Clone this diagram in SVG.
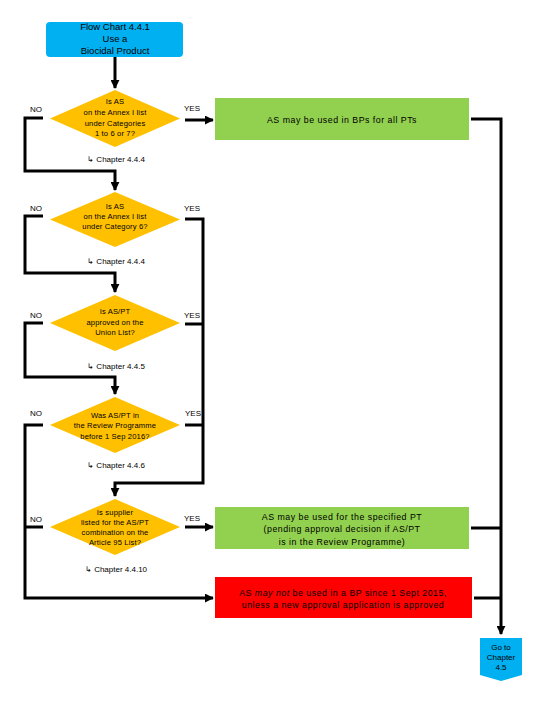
<svg xmlns="http://www.w3.org/2000/svg" width="540" height="720" viewBox="0 0 540 720">
<style>
text{font-family:"Liberation Sans",Arial,sans-serif;fill:#000;text-anchor:middle}
.t{font-size:9.5px}
.d{font-size:7.6px;letter-spacing:0.15px}
.b{font-size:8.8px;letter-spacing:0.5px}
.l{font-size:8px}
.c{font-size:8px}
.dia{fill:#FFC000}
.grn{fill:#92D050}
.red{fill:#FF0000}
.blu{fill:#00B0F0}
.con{fill:none;stroke:#000;stroke-width:3}
</style>
<defs>
<marker id="ah" viewBox="0 0 10 10" refX="9" refY="5" markerWidth="3" markerHeight="3" orient="auto" markerUnits="strokeWidth">
<path d="M0,0 L10,5 L0,10 z" fill="#000"/>
</marker>
</defs>
<rect width="540" height="720" fill="#fff"/>
<g id="connectors">
<path class="con" d="M115,57 V88" marker-end="url(#ah)"/>
<path class="con" d="M185,120 H213" marker-end="url(#ah)"/>
<path class="con" d="M471,119 H501 V634" marker-end="url(#ah)"/>
<path class="con" d="M43,118 H25 V171 H115 V190" marker-end="url(#ah)"/>
<path class="con" d="M43,216 H25 V273 H115 V292" marker-end="url(#ah)"/>
<path class="con" d="M185,219 H203 V483 H115 V496" marker-end="url(#ah)"/>
<path class="con" d="M43,323 H25 V377 H115 V394" marker-end="url(#ah)"/>
<path class="con" d="M185,324 H203"/>
<path class="con" d="M43,425 H25 V598 H213" marker-end="url(#ah)"/>
<path class="con" d="M185,425 H203"/>
<path class="con" d="M43,527 H25"/>
<path class="con" d="M185,527 H213" marker-end="url(#ah)"/>
<path class="con" d="M471,528 H501"/>
<path class="con" d="M474,598 H501"/>
</g>
<g id="start">
<rect class="blu" x="46" y="22" width="137" height="35" rx="4"/>
<text class="t" x="115" y="30">Flow Chart 4.4.1</text>
<text class="t" x="115" y="42">Use a</text>
<text class="t" x="115" y="54">Biocidal Product</text>
</g>
<g id="q1">
<polygon class="dia" points="115,90 180,118.5 115,147 50,118.5"/>
<text class="d" x="115" y="104">Is AS</text>
<text class="d" x="115" y="115">on the Annex I list</text>
<text class="d" x="115" y="126">under Categories</text>
<text class="d" x="115" y="136">1 to 6 or 7?</text>
<text class="l" x="36" y="112">NO</text>
<text class="l" x="192" y="111">YES</text>
<text class="c" x="116" y="162">↳ Chapter 4.4.4</text>
</g>
<g id="r1">
<rect class="grn" x="215" y="98" width="254" height="42"/>
<text class="b" x="342" y="123">AS may be used in BPs for all PTs</text>
</g>
<g id="q2">
<polygon class="dia" points="115,192 180,219.5 115,247 50,219.5"/>
<text class="d" x="115" y="209">Is AS</text>
<text class="d" x="115" y="219">on the Annex I list</text>
<text class="d" x="115" y="229">under Category 6?</text>
<text class="l" x="36" y="211">NO</text>
<text class="l" x="192" y="211">YES</text>
<text class="c" x="116" y="264">↳ Chapter 4.4.4</text>
</g>
<g id="q3">
<polygon class="dia" points="115,295 180,323 115,351 50,323"/>
<text class="d" x="115" y="314">Is AS/PT</text>
<text class="d" x="115" y="325">approved on the</text>
<text class="d" x="115" y="335">Union List?</text>
<text class="l" x="36" y="318">NO</text>
<text class="l" x="192" y="318">YES</text>
<text class="c" x="116" y="369">↳ Chapter 4.4.5</text>
</g>
<g id="q4">
<polygon class="dia" points="115,397 180,425 115,453 50,425"/>
<text class="d" x="115" y="418">Was AS/PT in</text>
<text class="d" x="115" y="428">the Review Programme</text>
<text class="d" x="115" y="439">before 1 Sep 2016?</text>
<text class="l" x="36" y="416">NO</text>
<text class="l" x="193" y="416">YES</text>
<text class="c" x="116" y="468">↳ Chapter 4.4.6</text>
</g>
<g id="q5">
<polygon class="dia" points="115,499 180,527 115,555 50,527"/>
<text class="d" x="115" y="515">Is supplier</text>
<text class="d" x="115" y="525">listed for the AS/PT</text>
<text class="d" x="115" y="535">combination on the</text>
<text class="d" x="115" y="545">Article 95 List?</text>
<text class="l" x="36" y="522">NO</text>
<text class="l" x="192" y="521">YES</text>
<text class="c" x="116" y="572">↳ Chapter 4.4.10</text>
</g>
<g id="r2">
<rect class="grn" x="215" y="507" width="254" height="42"/>
<text class="b" x="342" y="520">AS may be used for the specified PT</text>
<text class="b" x="342" y="532">(pending approval decision if AS/PT</text>
<text class="b" x="342" y="545">is in the Review Programme)</text>
</g>
<g id="r3">
<rect class="red" x="215" y="577" width="257" height="41"/>
<text class="b" x="343" y="596">AS <tspan font-style="italic">may not</tspan> be used in a BP since 1 Sept 2015,</text>
<text class="b" x="343" y="608">unless a new approval application is approved</text>
</g>
<g id="end">
<polygon class="blu" points="480,638 522,638 522,675 501,681 480,675"/>
<text class="l" x="501" y="650">Go to</text>
<text class="l" x="501" y="660">Chapter</text>
<text class="l" x="501" y="670">4.5</text>
</g>
</svg>
